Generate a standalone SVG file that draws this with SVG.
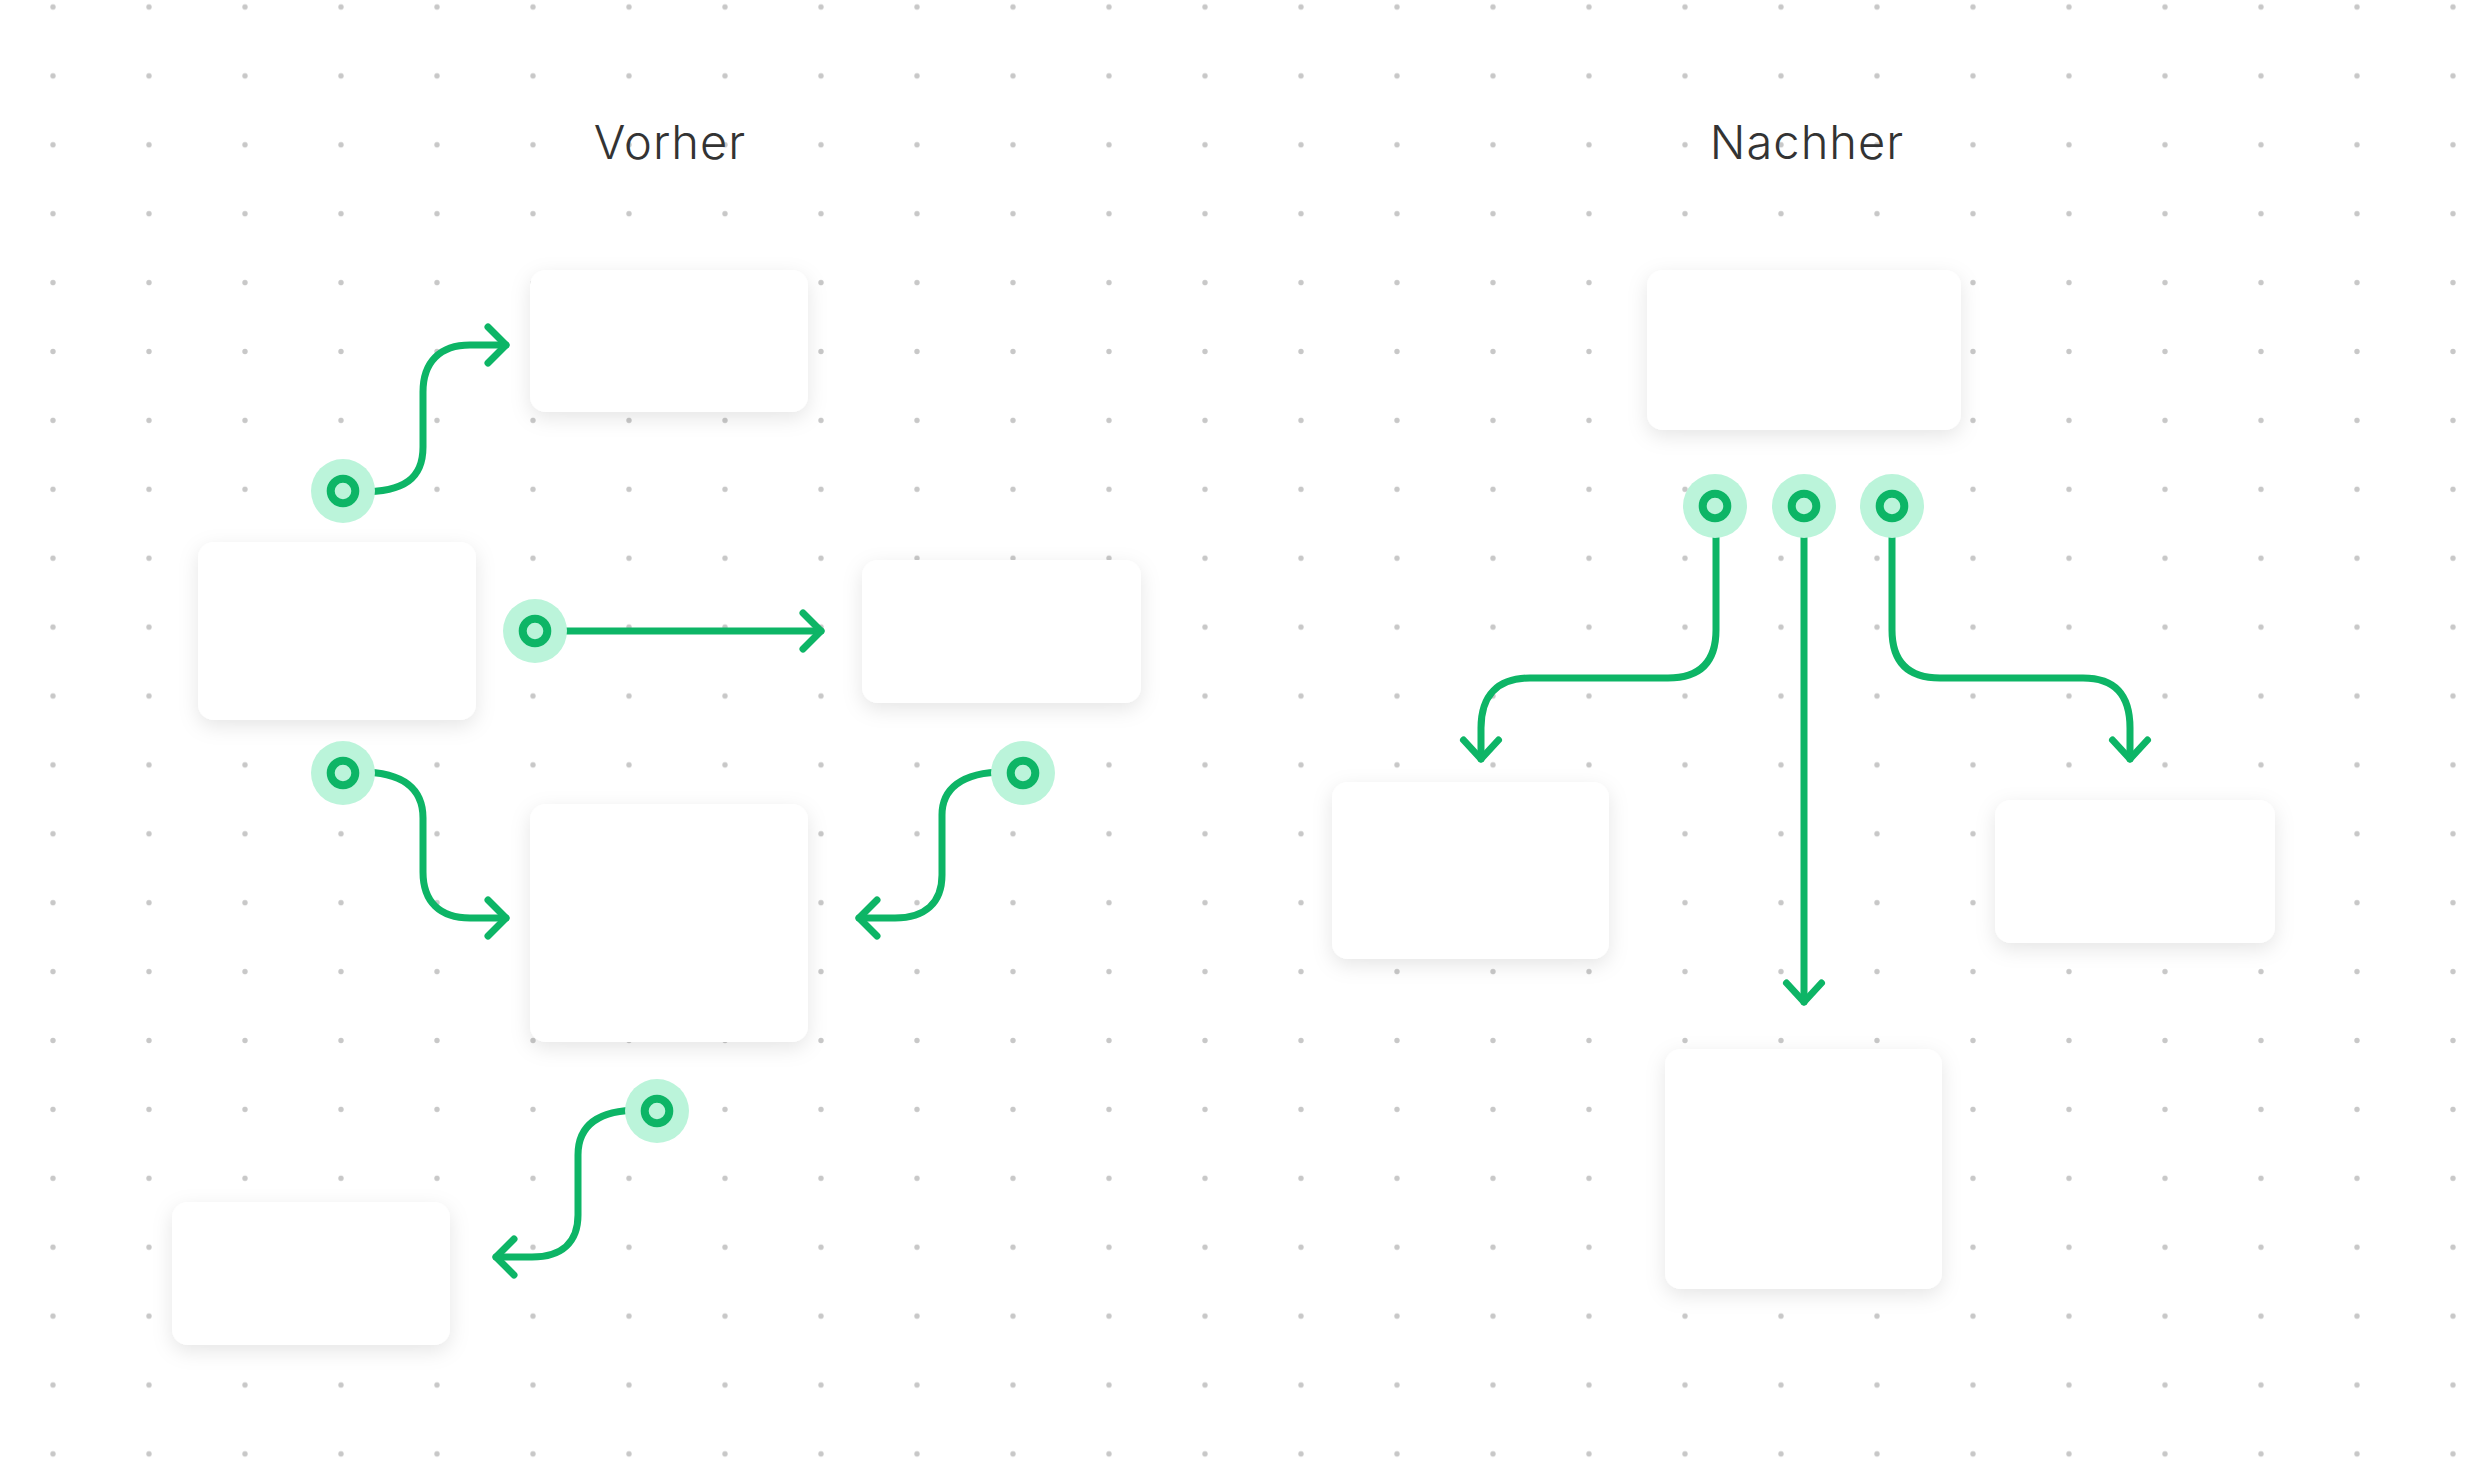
<svg xmlns="http://www.w3.org/2000/svg" width="2478" height="1460" viewBox="0 0 2478 1460">
  <defs>
    <pattern id="dots" x="5" y="-27.45" width="96" height="68.9" patternUnits="userSpaceOnUse">
      <circle cx="48" cy="34.45" r="2.7" fill="#c8c8c8"/>
    </pattern>
    <filter id="shadow" x="-20%" y="-30%" width="140%" height="160%">
      <feDropShadow dx="0" dy="6" stdDeviation="10" flood-color="#000000" flood-opacity="0.1"/>
    </filter>
    <style>
      .node { fill: #ffffff; filter: url(#shadow); }
      .conn { fill: none; stroke: #0db566; stroke-width: 7; stroke-linecap: round; stroke-linejoin: round; }
      .halo { fill: #bbf4da; }
      .ring { fill: #bbf4da; stroke: #0db566; stroke-width: 8; }
      .title { font-family: Inter, "Noto Sans", "Liberation Sans", sans-serif; font-size: 47px; font-weight: 300; letter-spacing: 1px; fill: #333333; text-anchor: middle; }
    </style>
  </defs>

  <rect width="2478" height="1460" fill="#ffffff"/>
  <rect width="2478" height="1460" fill="url(#dots)"/>

  <text class="title" x="670" y="159">Vorher</text>
  <text class="title" x="1807" y="159">Nachher</text>

  <!-- Vorher nodes -->
  <g id="v-top"><rect class="node" x="530" y="270" width="278" height="142" rx="16"/></g>
  <g id="v-left"><rect class="node" x="198" y="542" width="278" height="178" rx="16"/></g>
  <g id="v-right"><rect class="node" x="862" y="560" width="279" height="143" rx="16"/></g>
  <g id="v-center"><rect class="node" x="530" y="804" width="278" height="238" rx="16"/></g>
  <g id="v-bottom"><rect class="node" x="172" y="1202" width="278" height="143" rx="16"/></g>

  <!-- Nachher nodes -->
  <g id="n-top"><rect class="node" x="1647" y="270" width="314" height="160" rx="16"/></g>
  <g id="n-left"><rect class="node" x="1332" y="782" width="277" height="177" rx="16"/></g>
  <g id="n-right"><rect class="node" x="1995" y="800" width="280" height="143" rx="16"/></g>
  <g id="n-bottom"><rect class="node" x="1665" y="1049" width="277" height="240" rx="16"/></g>

  <!-- Connectors -->
  <g id="connectors">
    <path class="conn" d="M 360 492 C 405 492 423 478 423 447 L 423 392 C 423 362 440 345 470 345 L 506 345"/>
    <path class="conn" d="M 488 327 L 506 345 L 488 363"/>

    <path class="conn" d="M 550 631 L 821 631"/>
    <path class="conn" d="M 803 613 L 821 631 L 803 649"/>

    <path class="conn" d="M 360 772 C 405 772 423 790 423 818 L 423 872 C 423 902 440 918 470 918 L 506 918"/>
    <path class="conn" d="M 488 900 L 506 918 L 488 936"/>

    <path class="conn" d="M 1005 772 C 960 772 942 790 942 815 L 942 875 C 942 903 925 918 895 918 L 859 918"/>
    <path class="conn" d="M 877 900 L 859 918 L 877 936"/>

    <path class="conn" d="M 640 1110 C 595 1110 578 1128 578 1155 L 578 1215 C 578 1242 562 1257 532 1257 L 496 1257"/>
    <path class="conn" d="M 514 1239 L 496 1257 L 514 1275"/>

    <path class="conn" d="M 1716 520 L 1716 630 C 1716 662 1700 678 1668 678 L 1530 678 C 1498 678 1481 695 1481 728 L 1481 759"/>
    <path class="conn" d="M 1463.5 740 L 1481 759 L 1498.5 740"/>

    <path class="conn" d="M 1804 520 L 1804 1002"/>
    <path class="conn" d="M 1786.5 983 L 1804 1002 L 1821.5 983"/>

    <path class="conn" d="M 1892 520 L 1892 630 C 1892 662 1908 678 1940 678 L 2083 678 C 2115 678 2130 695 2130 728 L 2130 759"/>
    <path class="conn" d="M 2112.5 740 L 2130 759 L 2147.5 740"/>
  </g>

  <!-- Handles -->
  <g id="handles">
    <g id="h-v1"><circle class="halo" cx="343" cy="491" r="32"/><circle class="ring" cx="343" cy="491" r="12.3"/></g>
    <g id="h-v2"><circle class="halo" cx="535" cy="631" r="32"/><circle class="ring" cx="535" cy="631" r="12.3"/></g>
    <g id="h-v3"><circle class="halo" cx="343" cy="773" r="32"/><circle class="ring" cx="343" cy="773" r="12.3"/></g>
    <g id="h-v4"><circle class="halo" cx="1023" cy="773" r="32"/><circle class="ring" cx="1023" cy="773" r="12.3"/></g>
    <g id="h-v5"><circle class="halo" cx="657" cy="1111" r="32"/><circle class="ring" cx="657" cy="1111" r="12.3"/></g>
    <g id="h-n1"><circle class="halo" cx="1715" cy="506" r="32"/><circle class="ring" cx="1715" cy="506" r="12.3"/></g>
    <g id="h-n2"><circle class="halo" cx="1804" cy="506" r="32"/><circle class="ring" cx="1804" cy="506" r="12.3"/></g>
    <g id="h-n3"><circle class="halo" cx="1892" cy="506" r="32"/><circle class="ring" cx="1892" cy="506" r="12.3"/></g>
  </g>
</svg>
